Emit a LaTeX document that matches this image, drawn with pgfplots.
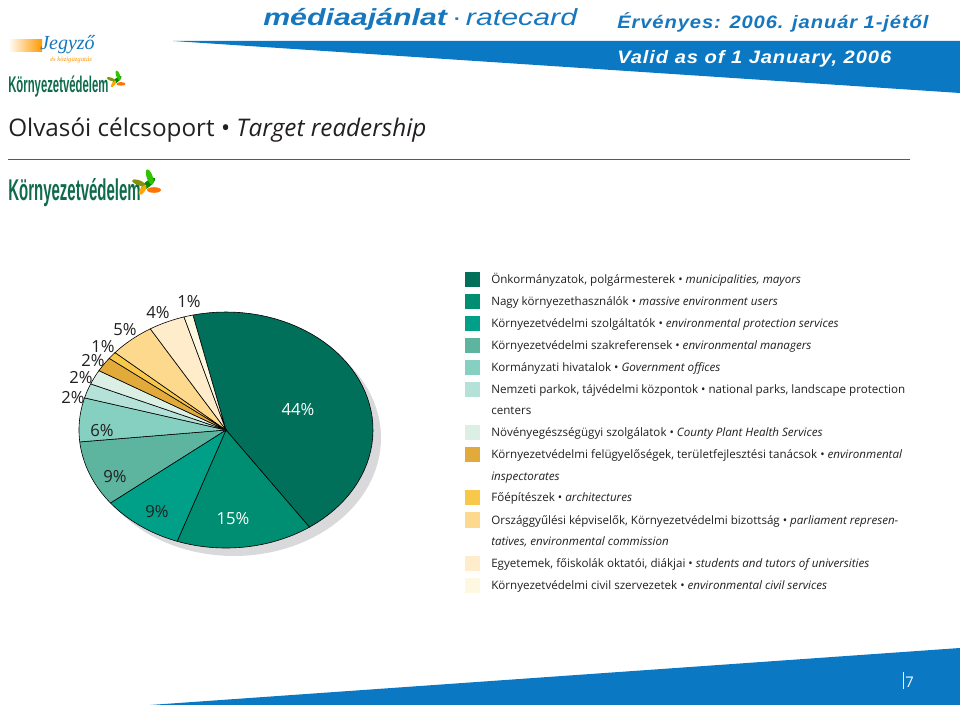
\documentclass[border=0pt]{standalone}
\usepackage{fontspec}
\setmainfont{Open Sans}
\newfontfamily\hdr[FakeStretch=1.3]{Liberation Sans}
\newfontfamily\ext[FakeStretch=1.12,LetterSpace=5]{Liberation Sans}
\newfontfamily\cond[FakeStretch=0.5]{Liberation Sans}
\newfontfamily\scr{Liberation Serif}
\usepackage{pgfplots}
\pgfplotsset{compat=1.18}

\definecolor{hblue}{HTML}{0B78C3}
\definecolor{tblue}{HTML}{1777BE}
\definecolor{logogreen}{HTML}{0F6B4B}
\definecolor{txt}{HTML}{231F20}
\definecolor{shadowgray}{HTML}{D9D9DB}
% slice colours, in legend order
\definecolor{cA}{HTML}{00705A}
\definecolor{cB}{HTML}{008E72}
\definecolor{cC}{HTML}{00A088}
\definecolor{cD}{HTML}{5DB5A0}
\definecolor{cE}{HTML}{85D0C0}
\definecolor{cF}{HTML}{B5E2D8}
\definecolor{cG}{HTML}{DCEFE5}
\definecolor{cH}{HTML}{E2A93B}
\definecolor{cI}{HTML}{F8C84A}
\definecolor{cJ}{HTML}{FDD98E}
\definecolor{cK}{HTML}{FEECCB}
\definecolor{cL}{HTML}{FFF8E0}

% pie geometry (page pixels) and start angle
\def\cx{226}\def\cy{430}\def\rx{147}\def\ry{118}\def\pstart{103}
\def\acc{0}
\newcommand\slice[2]{%
  \pgfmathsetmacro\aS{\pstart-3.6*\acc}%
  \pgfmathsetmacro\aE{\pstart-3.6*(\acc+#1)}%
  \edef\cmd{\noexpand\addplot[draw=black, line width=0.45pt, fill=#2, samples=50, domain=\aE:\aS]
    ({\cx+\rx*cos(x)},{\cy-\ry*sin(x)}) -- (axis cs:\cx,\cy) -- cycle;}%
  \cmd
  \pgfmathsetmacro\acc{\acc+#1}\xdef\acc{\acc}%
}
\newcommand\legsq[2]{\fill[#2] (465,#1-7.5) rectangle (480,#1+7.5);}
\newcommand\legfont{\fontsize{8.7}{10}\selectfont\color{txt}}
% leaf cluster of the logo, #1 = centre, #2 = scale
\newcommand\leaves[2]{%
  \begin{scope}[shift={#1}, scale=#2]
    \fill[green!55!black, rotate=-50] (0,0) ellipse (3 and 9);
    \fill[green!70!black!80!yellow, rotate=20] (4,-6) ellipse (3 and 8);
    \fill[olive!80!green, rotate=70] (-2,-9) ellipse (2.5 and 7);
    \fill[orange!90!red] (6,6) ellipse (7 and 2.8);
    \fill[orange!70!yellow, rotate=-35] (-1,8) ellipse (2.5 and 6);
  \end{scope}}

\begin{document}
\begin{tikzpicture}[x=0.75pt,y=-0.75pt]
\useasboundingbox (0,0) rectangle (960,705);
\fill[white] (0,0) rectangle (960,705);

% header
\fill[hblue] (173,41) -- (960,41) -- (960,93) -- cycle;
\node[anchor=base west, inner sep=0, text=tblue, font=\hdr\fontsize{17.5}{17.5}\selectfont]
  at (263,26) {\textbf{\textit{médiaajánlat}}\,·\,\textit{ratecard}};
\node[anchor=base west, inner sep=0, text=tblue, font=\ext\fontsize{13.5}{14}\selectfont\bfseries\itshape]
  at (617,29) {Érvényes: 2006. január 1-jétől};
\node[anchor=base west, inner sep=0, text=white, font=\ext\fontsize{13.5}{14}\selectfont\bfseries\itshape]
  at (617,64) {Valid as of 1 January, 2006};

% top-left logos
\shade[left color=white, right color=orange!80!yellow] (8,40) rectangle (42,52);
\node[anchor=base west, inner sep=0, text=tblue, font=\scr\fontsize{15}{15}\selectfont\itshape] at (40,50) {Jegyző};
\node[anchor=base west, inner sep=0, text=orange!85!yellow, font=\scr\fontsize{5}{5}\selectfont\itshape] at (50,62) {és közigazgatás};
\node[anchor=base west, inner sep=0, text=logogreen, font=\cond\fontsize{17}{17}\selectfont\bfseries] at (8,93) {Környezetvédelem};
\leaves{(117,80)}{0.65}

% title and rule
\node[anchor=base west, inner sep=0, text=txt, font=\fontsize{18.2}{18}\selectfont]
  at (8,137) {Olvasói célcsoport • \textit{Target readership}};
\draw[line width=0.8pt, gray!70!black] (8,159.5) -- (910,159.5);

% second logo
\node[anchor=base west, inner sep=0, text=logogreen, font=\cond\fontsize{22.5}{22}\selectfont\bfseries] at (8,201) {Környezetvédelem};
\leaves{(148,184)}{1}

% bottom band
\fill[hblue] (150,705) -- (960,648) -- (960,705) -- cycle;
\fill[white] (903,672) rectangle (904,689);
\node[anchor=base west, inner sep=0, text=white, font=\fontsize{11}{11}\selectfont] at (905,687) {7};

\begin{axis}[at={(0,0)}, anchor=north west, width=720pt, height=528.75pt,
  scale only axis, xmin=0, xmax=960, ymin=0, ymax=705, y dir=reverse,
  hide axis, clip=false]
  % drop shadow
  \addplot[fill=shadowgray, draw=none, samples=120, domain=0:360]
    ({\cx+8+\rx*cos(x)},{\cy+8-\ry*sin(x)}) -- cycle;
  % slices (percent)
  \slice{44}{cA}
  \slice{15}{cB}
  \slice{9}{cC}
  \slice{9}{cD}
  \slice{6}{cE}
  \slice{2}{cF}
  \slice{2}{cG}
  \slice{2}{cH}
  \slice{1}{cI}
  \slice{5}{cJ}
  \slice{4}{cK}
  \slice{1}{cL}
\end{axis}

% slice labels
\begin{scope}[every node/.style={font=\fontsize{12.5}{13}\selectfont, text=txt, inner sep=0}]
\node[text=white] at (298,410) {44\%};
\node[text=white] at (233,519) {15\%};
\node at (157,512) {9\%};
\node at (115,477) {9\%};
\node at (102,431) {6\%};
\node at (73,398) {2\%};
\node at (81,378) {2\%};
\node at (93,361) {2\%};
\node at (103,347) {1\%};
\node at (125,330) {5\%};
\node at (158,313) {4\%};
\node at (189,302) {1\%};
\end{scope}

% legend
\legsq{280}{cA}\legsq{302}{cB}\legsq{324}{cC}\legsq{346}{cD}\legsq{368}{cE}\legsq{390}{cF}
\legsq{433}{cG}\legsq{455}{cH}\legsq{498}{cI}\legsq{520}{cJ}\legsq{563}{cK}\legsq{585}{cL}
\begin{scope}[every node/.style={anchor=base west, inner sep=0, font=\legfont}]
\node at (491,284) {Önkormányzatok, polgármesterek • \textit{municipalities, mayors}};
\node at (491,306) {Nagy környezethasználók • \textit{massive environment users}};
\node at (491,328) {Környezetvédelmi szolgáltatók • \textit{environmental protection services}};
\node at (491,350) {Környezetvédelmi szakreferensek • \textit{environmental managers}};
\node at (491,372) {Kormányzati hivatalok • \textit{Government offices}};
\node at (491,394) {Nemzeti parkok, tájvédelmi központok • national parks, landscape protection};
\node at (491,415) {centers};
\node at (491,437) {Növényegészségügyi szolgálatok • \textit{County Plant Health Services}};
\node at (491,459) {Környezetvédelmi felügyelőségek, területfejlesztési tanácsok • \textit{environmental}};
\node at (491,480) {\textit{inspectorates}};
\node at (491,502) {Főépítészek • \textit{architectures}};
\node at (491,524) {Országgyűlési képviselők, Környezetvédelmi bizottság • \textit{parliament represen-}};
\node at (491,545) {\textit{tatives, environmental commission}};
\node at (491,567) {Egyetemek, főiskolák oktatói, diákjai • \textit{students and tutors of universities}};
\node at (491,589) {Környezetvédelmi civil szervezetek • \textit{environmental civil services}};
\end{scope}
\end{tikzpicture}
\end{document}
